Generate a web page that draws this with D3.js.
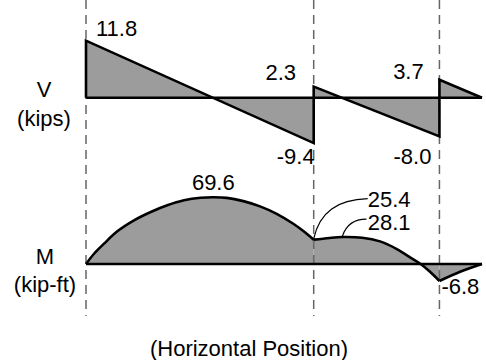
<!DOCTYPE html>
<html>
<head>
<meta charset="utf-8">
<script src="https://cdn.jsdelivr.net/npm/d3@7"></script>
<style>
  html, body { margin: 0; padding: 0; background: #fff; }
  text { font-family: "Liberation Sans", Arial, Helvetica, sans-serif; font-size: 22px; fill: #000; }
</style>
</head>
<body>
<svg id="chart" width="486" height="360"></svg>
<script>
// ---- data ----
const supports = [0, 23, 35.7];          // dashed support lines (horizontal position)
const beamEnd = 40;
// shear diagram points (x, V kips)
const shearX = [0, 0, 23, 23, 35.7, 35.7, 40];
const shearV = [0, 11.8, -9.4, 2.3, -8.0, 3.7, 0];
// moment diagram points per segment (x, M kip-ft)
const momSpan1X = [0, 0.81, 1.82, 3.16, 4.85, 6.54, 8.21, 9.90, 11.58, 12.9, 14.21, 15.89, 17.58, 19.26, 20.94, 21.95, 23];
const momSpan1M = [0, 10.7, 21.2, 34.1, 45.6, 54.3, 61.3, 66.5, 69.1, 69.6, 69.0, 65.6, 60.1, 52.3, 42.0, 34.4, 25.4];
const momSpan2X = [23, 24.6, 25.9, 27.9, 29.7, 31.4, 32.7, 33.8, 34.75, 35.7];
const momSpan2M = [25.4, 27.2, 28.1, 27.4, 23.6, 15.6, 7.2, 0, -3.1, -6.8];
const momSpan3X = [35.7, 37.85, 40];
const momSpan3M = [-6.8, -3.0, 0];
// labels
const shearLabels = ["11.8", "2.3", "-9.4", "3.7", "-8.0"];
const momentLabels = ["69.6", "25.4", "28.1", "-6.8"];
const axisTitles = ["V", "(kips)", "M", "(kip-ft)", "(Horizontal Position)"];

// ---- scales ----
const svg = d3.select("#chart");
const x = d3.scaleLinear().domain([0, beamEnd]).range([86, 482]);
const yV = d3.scaleLinear().domain([-10, 12]).range([146, 39.7]);
const yM = d3.scaleLinear().domain([-6.8, 0, 69.6]).range([281, 264, 197.3]);

const FILL = "#9c9c9c";
const SW = 2.6;
const curve = d3.curveCatmullRom.alpha(0.5);

// ---- shear ----
const shearPts = shearX.map((d, i) => ({x: d, v: shearV[i]}));
svg.append("path")
  .datum(shearPts)
  .attr("d", d3.area().x(d => x(d.x)).y0(yV(0)).y1(d => yV(d.v)))
  .attr("fill", FILL);

// ---- moment fill ----
const segs = [[momSpan1X, momSpan1M], [momSpan2X, momSpan2M], [momSpan3X, momSpan3M]]
  .map(([xs, ms]) => xs.map((d, i) => ({x: d, m: ms[i]})));
segs.forEach(seg => {
  svg.append("path")
    .datum(seg)
    .attr("d", d3.area().curve(curve).x(d => x(d.x)).y0(yM(0)).y1(d => yM(d.m)))
    .attr("fill", FILL);
});

// ---- dashed support lines ----
svg.selectAll("line.support")
  .data(supports)
  .join("line")
  .attr("class", "support")
  .attr("x1", d => x(d)).attr("x2", d => x(d))
  .attr("y1", 0).attr("y2", 316)
  .attr("stroke", "#666")
  .attr("stroke-width", 1.5)
  .attr("stroke-dasharray", "9,6");

// ---- outlines ----
svg.append("path")
  .datum(shearPts)
  .attr("d", d3.line().x(d => x(d.x)).y(d => yV(d.v)))
  .attr("fill", "none").attr("stroke", "#000").attr("stroke-width", SW)
  .attr("stroke-linejoin", "miter");
svg.append("line")
  .attr("x1", x(0)).attr("x2", x(beamEnd))
  .attr("y1", yV(0)).attr("y2", yV(0))
  .attr("stroke", "#000").attr("stroke-width", SW);

segs.forEach(seg => {
  svg.append("path")
    .datum(seg)
    .attr("d", d3.line().curve(curve).x(d => x(d.x)).y(d => yM(d.m)))
    .attr("fill", "none").attr("stroke", "#000").attr("stroke-width", SW);
});
svg.append("line")
  .attr("x1", x(0)).attr("x2", x(beamEnd))
  .attr("y1", yM(0)).attr("y2", yM(0))
  .attr("stroke", "#000").attr("stroke-width", SW);

// ---- leader lines for 25.4 / 28.1 ----
const p1 = [x(23), yM(25.4) - 1];
const p2 = [x(25.9), yM(28.1) - 1];
svg.append("path")
  .attr("d", `M${p1[0]},${p1[1]} C${p1[0] + 6},${p1[1] - 27} ${p1[0] + 24},${p1[1] - 39} ${p1[0] + 54},${p1[1] - 40}`)
  .attr("fill", "none").attr("stroke", "#000").attr("stroke-width", 1.2);
svg.append("path")
  .attr("d", `M${p2[0]},${p2[1]} C${p2[0] + 4},${p2[1] - 12} ${p2[0] + 12},${p2[1] - 17} ${p2[0] + 24},${p2[1] - 17}`)
  .attr("fill", "none").attr("stroke", "#000").attr("stroke-width", 1.2);

// ---- value labels ----
const shearLabelPos = [
  {t: shearLabels[0], x: x(0) + 10, y: yV(11.8) - 5, a: "start"},
  {t: shearLabels[1], x: x(23) - 33, y: yV(2.3) - 7, a: "middle"},
  {t: shearLabels[2], x: x(23) + 1, y: yV(-9.4) + 21, a: "end"},
  {t: shearLabels[3], x: x(35.7) - 31, y: yV(3.7) - 1, a: "middle"},
  {t: shearLabels[4], x: x(35.7) - 8, y: yV(-8.0) + 28, a: "end"}
];
const momLabelPos = [
  {t: momentLabels[0], x: x(12.86), y: yM(69.6) - 7, a: "middle"},
  {t: momentLabels[1], x: x(23) + 54, y: yM(25.4) - 33, a: "start"},
  {t: momentLabels[2], x: x(23) + 54, y: yM(28.1) - 7, a: "start"},
  {t: momentLabels[3], x: x(35.7) + 2, y: yM(-6.8) + 13, a: "start"}
];
svg.selectAll("text.val")
  .data(shearLabelPos.concat(momLabelPos))
  .join("text")
  .attr("class", "val")
  .attr("x", d => d.x).attr("y", d => d.y)
  .attr("text-anchor", d => d.a)
  .text(d => d.t);

// ---- axis titles ----
const titlePos = [
  {t: axisTitles[0], x: 44, y: yV(0) - 1},
  {t: axisTitles[1], x: 44, y: yV(0) + 28},
  {t: axisTitles[2], x: 45, y: yM(0)},
  {t: axisTitles[3], x: 45, y: yM(0) + 28},
  {t: axisTitles[4], x: 249, y: 356}
];
svg.selectAll("text.title")
  .data(titlePos)
  .join("text")
  .attr("class", "title")
  .attr("x", d => d.x).attr("y", d => d.y)
  .attr("text-anchor", "middle")
  .text(d => d.t);
</script>
</body>
</html>
